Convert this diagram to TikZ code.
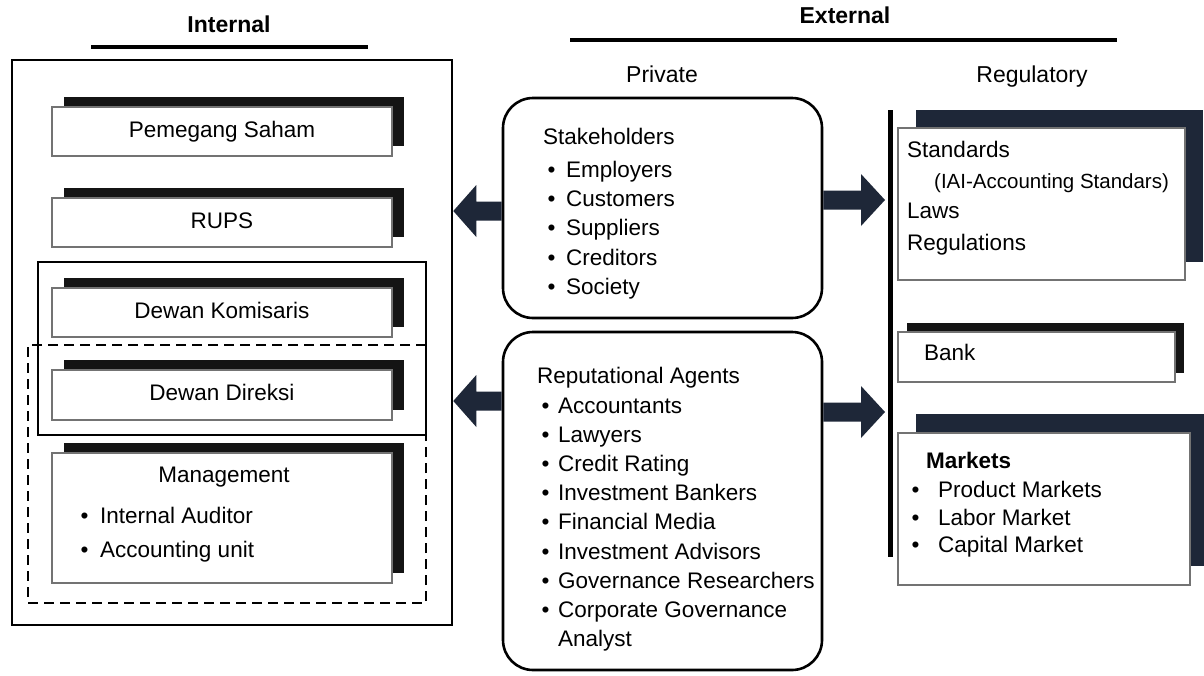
\documentclass[tikz,border=0pt]{standalone}
\usepackage{fontspec}
\setmainfont{Liberation Sans}
\usetikzlibrary{shadows,calc}
\definecolor{navy}{HTML}{1E2738}

% bullet item: bullet in a box of fixed width, then the text
\newcommand\bul[2]{\makebox[#1][l]{\textbullet}#2}

% block arrow from a tail point to a tip point (#3 = head length, signed)
\newcommand\blockarrow[3]{%
  \fill[arrowfill] let \p1=(#1), \p2=(#2) in
    (\x1,\y1+9.5pt) -- ({\x2+(#3)*1pt},\y1+9.5pt) -- ({\x2+(#3)*1pt},\y2+26pt)
    -- (\x2,\y2) -- ({\x2+(#3)*1pt},\y2-26pt) -- ({\x2+(#3)*1pt},\y1-9.5pt)
    -- (\x1,\y1-9.5pt) -- cycle;}

\begin{document}
\begin{tikzpicture}[x=1pt,y=-1pt,
  txt/.style={inner sep=0pt, text height=16pt, text depth=5pt,
    font=\fontsize{22.5}{27}\selectfont},
  heading/.style={txt, font=\fontsize{23}{27}\selectfont\bfseries},
  subhead/.style={txt, font=\fontsize{23}{27}\selectfont},
  outline/.style={draw=black, line width=2.6pt, inner sep=0pt},
  rule/.style={line width=4pt},
  card/.style={txt, draw=black!55, line width=1.2pt, fill=white},
  lcard/.style={card, minimum width=340pt,
    general shadow={fill=black!92, shadow xshift=12pt, shadow yshift=10pt}},
  pbox/.style={draw=black, line width=2.6pt, rounded corners=30pt, inner sep=0pt},
  arrowfill/.style={fill=navy},
]
\useasboundingbox[fill=white] (0,0) rectangle (1204,675);

% ---------- headings ----------
\node[heading] (hint) at (229,27) {Internal};
\draw[rule] (91,47) -- (368,47);
\node[heading] (hext) at (845,18) {External};
\draw[rule] (570,40) -- (1117,40);
\node[subhead] (hpriv) at (662,77) {Private};
\node[subhead] (hreg) at (1032,77) {Regulatory};

% ---------- internal governance ----------
\node[outline, minimum width=440pt, minimum height=565pt] (internal) at (232,342.5) {};
\node[outline, minimum width=388pt, minimum height=173pt] (board) at (232,348.5) {};
\node[outline, dashed, dash pattern=on 10pt off 6pt,
      minimum width=398pt, minimum height=258pt] (exec) at (227,474) {};

\node[lcard, minimum height=49pt] (saham) at (222,131.5) {Pemegang Saham};
\node[lcard, minimum height=49pt] (rups) at (222,222.5) {RUPS};
\node[lcard, minimum height=49pt] (komisaris) at (222,312.5) {Dewan Komisaris};
\node[lcard, minimum height=50pt] (direksi) at (222,395) {Dewan Direksi};
\node[lcard, minimum height=130pt] (mgmt) at (222,518) {};
\node[txt] (mgmtT) at (224,477) {Management};
\node[txt, anchor=west] (ia) at (80.5,518) {\bul{19.5pt}{Internal Auditor}};
\node[txt, anchor=west] (au) at (80.5,552) {\bul{19.5pt}{Accounting unit}};

% ---------- private mechanisms ----------
\node[pbox, minimum width=319pt, minimum height=220pt] (stake) at (662.5,208) {};
\node[txt, anchor=west] (stakeT) at (543,139) {Stakeholders};
\foreach \t [count=\i] in {Employers,Customers,Suppliers,Creditors,Society}
  \node[txt, anchor=west] (stake\i) at (547.5,{172+29.2*(\i-1)}) {\bul{18.5pt}{\t}};

\node[pbox, minimum width=319pt, minimum height=338pt] (rep) at (662.5,501) {};
\node[txt, anchor=west] (repT) at (537,378) {Reputational Agents};
\foreach \t [count=\i] in {Accountants,Lawyers,Credit Rating,Investment Bankers,
    Financial Media,Investment Advisors,Governance Researchers,Corporate Governance}
  \node[txt, anchor=west] (rep\i) at (541.5,{408+29.1*(\i-1)}) {\bul{16.5pt}{\t}};
\node[txt, anchor=west] (rep9) at (558,641) {Analyst};

% ---------- regulatory mechanisms ----------
\coordinate (rtop) at (890,110);
\coordinate (rbot) at (890,557);
\coordinate (rtip) at (885,0);
\draw[line width=5pt] (rtop) -- (rbot);

\node[card, minimum width=287pt, minimum height=152pt,
      general shadow={fill=navy, shadow xshift=18pt, shadow yshift=18pt}] (std) at (1041.5,204) {};
\node[txt, anchor=west] (stdA) at (907,152) {Standards};
\node[txt, anchor=west, font=\fontsize{20.5}{25}\selectfont] (stdB) at (934,183) {(IAI-Accounting Standars)};
\node[txt, anchor=west] (stdC) at (907,213) {Laws};
\node[txt, anchor=west] (stdD) at (907,245) {Regulations};

\node[card, minimum width=277pt, minimum height=50pt,
      general shadow={fill=black!92, shadow xshift=9pt, shadow yshift=9pt}] (bank) at (1036.5,357) {};
\node[txt, anchor=west] (bankT) at (924,355) {Bank};

\node[card, minimum width=292pt, minimum height=152pt,
      general shadow={fill=navy, shadow xshift=18pt, shadow yshift=19pt}] (markets) at (1044,509) {};
\node[txt, anchor=west, font=\fontsize{22.5}{27}\selectfont\bfseries] (mkT) at (926,463) {Markets};
\foreach \t [count=\i] in {Product Markets,Labor Market,Capital Market}
  \node[txt, anchor=west] (mk\i) at (911.5,{492+27.5*(\i-1)}) {\bul{26.5pt}{\t}};

% ---------- arrows ----------
\blockarrow{stake.west |- 0,211}{internal.east |- 0,211}{23}
\blockarrow{stake.east |- 0,200}{rtip |- 0,200}{-24}
\blockarrow{rep.west |- 0,401}{internal.east |- 0,401}{23}
\blockarrow{rep.east |- 0,412}{rtip |- 0,412}{-24}
\end{tikzpicture}
\end{document}
